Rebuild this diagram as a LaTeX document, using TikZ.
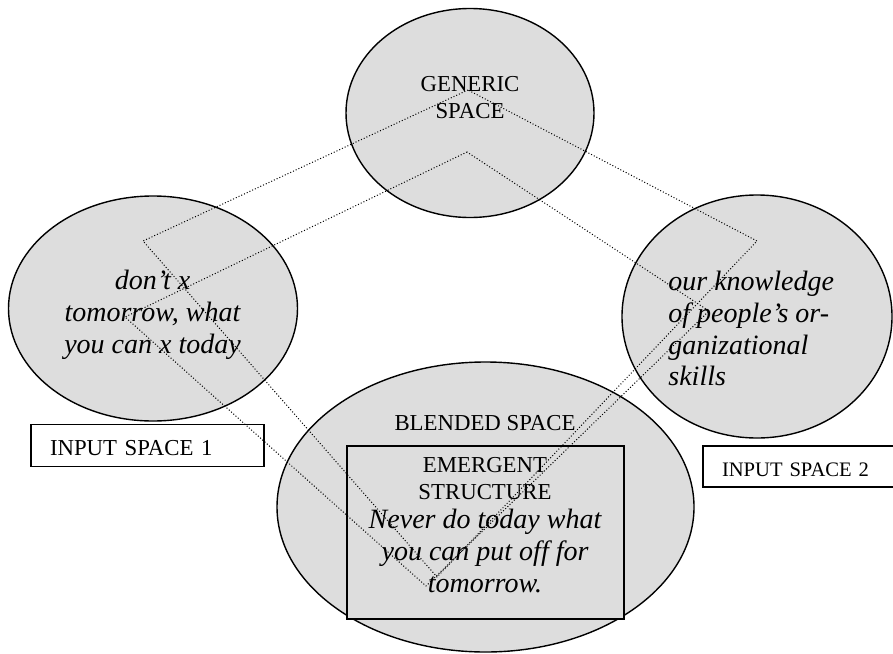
\documentclass[tikz,border=0pt]{standalone}
\usepackage{fontspec}
\setmainfont{Liberation Serif}
\usetikzlibrary{shapes.geometric}
\definecolor{spacefill}{RGB}{221,221,221}

\begin{document}
\begin{tikzpicture}[
  x=0.5pt, y=-0.5pt,
  space/.style={ellipse, draw, fill=spacefill, line width=0.7pt, inner sep=0pt},
  frame/.style={rectangle, draw, fill=spacefill, line width=0.6pt, inner sep=0pt},
  tag/.style={rectangle, draw, fill=white, line width=0.6pt, inner xsep=9.5pt, inner ysep=0pt, align=left, text depth=0pt},
  caption/.style={inner sep=0pt, align=center, font=\fontsize{11.4}{13.4}\selectfont},
  saying/.style={inner sep=0pt, align=center, font=\fontsize{14}{15.8}\selectfont\itshape},
  map/.style={draw, line width=0.5pt, dash pattern=on 0.5pt off 1pt}
]
\useasboundingbox (0,0) rectangle (893,653);

\node[space, minimum width=124pt, minimum height=104.5pt] (generic) at (470,113) {};
\node[space, minimum width=144.5pt, minimum height=112.5pt] (input1) at (153,308.5) {};
\node[space, minimum width=135pt, minimum height=121.5pt] (input2) at (757,316.5) {};
\node[space, minimum width=208.5pt, minimum height=145pt] (blend) at (485.5,507) {};
\node[frame, minimum width=138.5pt, minimum height=86.5pt] (emergent) at (485.5,532.5) {};

\node[tag, text width=97.5pt, minimum height=20.85pt, text height=10pt,
  font=\fontsize{11.4}{13.4}\selectfont] (tag1) at (147.5,445.6) {INPUT SPACE 1};
\node[tag, text width=78pt, minimum height=20.5pt, text height=9.6pt,
  font=\fontsize{10.3}{12}\selectfont] (tag2) at (800,466.5) {INPUT SPACE 2};

\coordinate (gen-out) at (468,90);
\coordinate (gen-in) at (467,152);
\coordinate (in1-out) at (143,241);
\coordinate (in1-in) at (125,317);
\coordinate (bl-out) at (437,577);
\coordinate (bl-in) at (426,586);
\coordinate (in2-out) at (757,241);
\coordinate (in2-in) at (709,311);

\path[map] (gen-out) -- (in1-out) -- (bl-out) -- (in2-out) -- cycle;
\path[map] (gen-in) -- (in1-in) -- (bl-in) -- (in2-in) -- cycle;

\node[caption, anchor=north] (gentext) at (470,76) {GENERIC\\SPACE};
\node[caption] (blendtext) at (485,423) {BLENDED SPACE};
\node[caption, anchor=north] (emtext) at (485,457) {EMERGENT\\STRUCTURE};
\node[saying, anchor=north] (proverb) at (485,509) {Never do today what\\you can put off for\\tomorrow.};
\node[saying, anchor=north] (text1) at (152.5,270) {don’t x\\tomorrow, what\\you can x today};
\node[saying, anchor=north west, align=left] (text2) at (668,271) {our knowledge\\of people’s or-\\ganizational\\skills};

\end{tikzpicture}
\end{document}
